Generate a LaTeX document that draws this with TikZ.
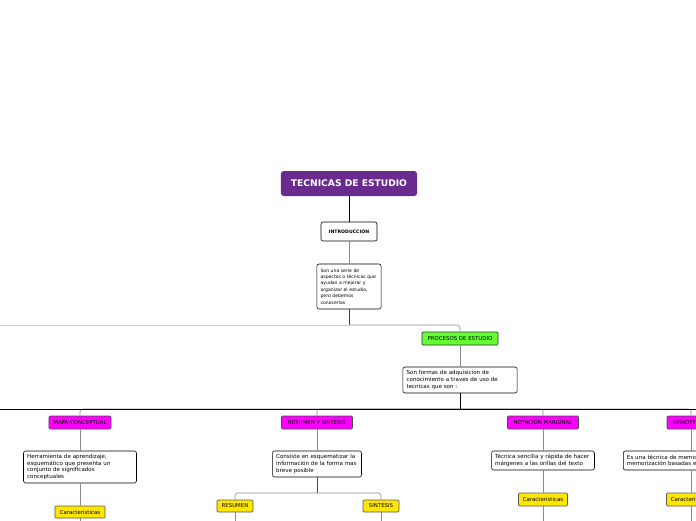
\documentclass[tikz,border=0pt]{standalone}
\usepackage{fontspec}
\setmainfont{DejaVu Sans}
\definecolor{titlepurple}{RGB}{106,42,142}
\definecolor{procgreen}{RGB}{102,255,51}
\definecolor{techpink}{RGB}{255,0,255}
\definecolor{featyellow}{RGB}{255,230,0}
\definecolor{linegray}{RGB}{140,140,140}
\definecolor{lineorange}{RGB}{255,200,110}
\newcommand\tinytext{\fontsize{3.95}{4.7}\selectfont}
\newcommand\labeltext{\fontsize{3.85}{4.4}\selectfont}
\begin{document}
\begin{tikzpicture}[
    x=0.025cm, y=-0.025cm,
    titlebox/.style={rectangle, fill=titlepurple, rounded corners=2pt, text=white, font=\fontsize{6.5}{7}\selectfont\bfseries, minimum width=3.4cm, minimum height=0.625cm, inner sep=0pt},
    introbox/.style={rectangle, draw=black, fill=white, rounded corners=1.5pt, font=\fontsize{3.3}{4}\selectfont\bfseries, minimum width=1.4cm, minimum height=0.475cm, inner sep=0pt},
    descbox/.style={rectangle, draw=black, fill=white, rounded corners=1.5pt, font=\tinytext, align=left, inner xsep=2.6pt, inner ysep=2pt},
    procbox/.style={rectangle, draw=black!80, fill=procgreen, rounded corners=0.8pt, font=\labeltext, minimum width=1.9cm, minimum height=0.325cm, inner sep=0pt},
    techbox/.style={rectangle, draw=black!70, fill=techpink, rounded corners=0.8pt, font=\labeltext, minimum height=0.325cm, inner sep=0pt},
    featbox/.style={rectangle, draw=black!65, fill=featyellow, rounded corners=0.8pt, font=\labeltext, minimum height=0.3cm, inner sep=0pt},
    link/.style={draw=linegray, line width=0.4pt},
    branch/.style={draw=linegray, line width=0.4pt, rounded corners=2pt},
]
    \useasboundingbox (0,0) rectangle (696,520);

    % Root and introduction
    \node[titlebox] (title) at (349,183.5) {TECNICAS DE ESTUDIO};
    \node[introbox] (intro) at (349,231.5) {INTRODUCCION};
    \node[descbox, font=\fontsize{3.25}{4.6}\selectfont, text width=1.42cm, minimum height=1.125cm] (serie) at (349,286.5)
        {Son una serie de\\ aspectos o técnicas que\\ ayudan a mejorar y\\ organizar el estudio,\\ pero debemos\\ conocerlas};

    % Junction
    \coordinate (join) at (349,325);
    \coordinate (leftend) at (-5,325);

    % Processes
    \node[procbox] (proc) at (460,338.5) {PROCESOS DE ESTUDIO};
    \node[descbox, text width=2.67cm, minimum height=0.65cm] (formas) at (460,380)
        {Son formas de adquisicion de\\ conocimiento a traves de uso de\\ tecnicas que son :};
    \coordinate (bus) at (460,409);
    \coordinate (busL) at (-5,409);
    \coordinate (busR) at (701,409);

    % Techniques
    \node[techbox, minimum width=1.55cm] (mapa) at (80,422.5) {MAPA CONCEPTUAL};
    \node[techbox, minimum width=1.775cm] (ressin) at (317,422.5) {RESUMEN Y SINTESIS};
    \node[techbox, minimum width=1.775cm] (notacion) at (543,422.5) {NOTACION MARGINAL};
    \node[techbox, minimum width=1.2cm] (nemo) at (691,422.5) {NEMOTECNIA};

    % Descriptions
    \node[descbox, text width=2.64cm, minimum height=0.8cm] (herr) at (80,467)
        {Herramienta de aprendizaje,\\ esquemático que presenta un\\ conjunto de significados\\ conceptuales};
    \node[descbox, text width=2.04cm, minimum height=0.65cm] (consiste) at (317,464)
        {Consiste en esquematizar la\\ información de la forma mas\\ breve posible};
    \node[descbox, text width=2.39cm, minimum height=0.475cm] (tecnica) at (543,460.5)
        {Técnica sencilla y rápida de hacer\\ márgenes a las orillas del texto};
    \node[descbox, text width=3.2cm, minimum height=0.475cm] (esuna) at (691,460.5)
        {Es una técnica de memoria y\\ memorización basadas en};

    % Features
    \node[featbox, minimum width=1.25cm] (carmapa) at (80,512) {Caracteristicas};
    \coordinate (split) at (317,493);
    \node[featbox, minimum width=0.9cm] (resumen) at (235,506) {RESUMEN};
    \node[featbox, minimum width=0.9cm] (sintesis) at (381,506) {SINTESIS};
    \node[featbox, minimum width=1.225cm, minimum height=0.325cm] (carnota) at (543,499.5) {Caracteristicas};
    \node[featbox, minimum width=1.225cm, minimum height=0.325cm] (carnemo) at (691,499.5) {Caracteristicas};

    \coordinate (endmapa) at (80,525);
    \coordinate (endres) at (235,525);
    \coordinate (endsin) at (381,525);
    \coordinate (endnota) at (543,525);
    \coordinate (endnemo) at (691,525);

    % Connectors
    \draw[line width=0.6pt] (title) -- (intro);
    \draw[link] (intro) -- (serie);
    \draw[draw=black!55!brown, line width=0.4pt] (serie) -- (join);
    \draw[draw=lineorange, line width=0.5pt] (join) -- (leftend);
    \draw[branch] (join) -| (proc);
    \draw[link] (proc) -- (formas);
    \draw[branch] (bus) -| (mapa);
    \draw[branch] (bus) -| (ressin);
    \draw[branch] (bus) -| (notacion);
    \draw[branch] (bus) -| (nemo);
    \draw[line width=0.7pt] (formas) -- (bus);
    \draw[line width=0.7pt] (busL) -- (busR);
    \draw[link] (mapa) -- (herr);
    \draw[link] (herr) -- (carmapa);
    \draw[link] (carmapa) -- (endmapa);
    \draw[link] (ressin) -- (consiste);
    \draw[line width=0.5pt, draw=black!70] (consiste) -- (split);
    \draw[branch] (split) -| (resumen);
    \draw[branch] (split) -| (sintesis);
    \draw[link] (resumen) -- (endres);
    \draw[link] (sintesis) -- (endsin);
    \draw[link] (notacion) -- (tecnica);
    \draw[link] (tecnica) -- (carnota);
    \draw[link] (carnota) -- (endnota);
    \draw[link] (nemo) -- (esuna);
    \draw[link] (esuna) -- (carnemo);
    \draw[link] (carnemo) -- (endnemo);
\end{tikzpicture}
\end{document}
